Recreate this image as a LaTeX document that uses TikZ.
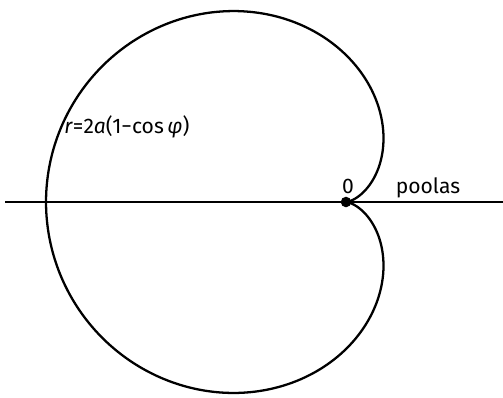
\documentclass[tikz,border=0pt]{standalone}
\usepackage{fontspec}
\setmainfont{Fira Sans}
\usepackage{tikz}
\usetikzlibrary{calc}

\begin{document}
\begin{tikzpicture}[x=0.02cm, y=-0.02cm,
        % Define a style for the pole point and the curve
        point/.style={fill=black, circle, minimum size=6pt, inner sep=0pt},
        curve/.style={line width=1.3pt},
        lbl/.style={font=\fontsize{12}{14}\selectfont, inner sep=0pt}]

        \useasboundingbox (0,0) rectangle (503,397);

        % 1. Define the pole and the ends of the polar axis
        \coordinate (O) at (346, 202);
        \coordinate (Left) at (5, 202);
        \coordinate (Right) at (503, 202);

        % 2. Draw the polar axis
        \draw[curve] (Left) -- (Right);

        % 3. Draw the cardioid r = 2a(1 - cos phi), a = 75
        \def\a{75}
        \draw[curve] plot[domain=0:360, samples=240, smooth]
            ({346 + 2*\a*(1-cos(\x))*cos(\x)}, {202 - 0.98*2*\a*(1-cos(\x))*sin(\x)});

        % 4. Mark the pole and label everything
        \node[point] (pole) at (O) {};
        \node[lbl] (zero) at (348, 186) {0};
        \node[lbl] (axis) at (428, 188) {poolas};
        \node[lbl, anchor=west] (eq) at (64, 127) {\textit{r}=2\textit{a}(1−cos\,\textit{φ})};

    \end{tikzpicture}
\end{document}
